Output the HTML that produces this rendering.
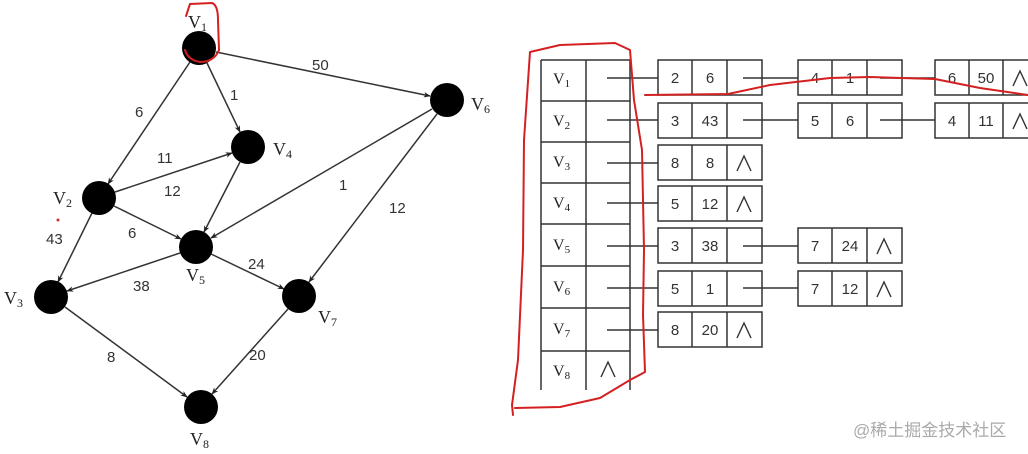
<!DOCTYPE html>
<html><head><meta charset="utf-8"><style>
html,body{margin:0;padding:0;background:#fff;}
svg{display:block;}
.s{font-family:"Liberation Serif",serif;fill:#222;}
.n{font-family:"Liberation Sans",sans-serif;fill:#333;font-size:15px;}
</style></head><body>
<svg width="1028" height="454" viewBox="0 0 1028 454" xmlns="http://www.w3.org/2000/svg">
<defs>
<marker id="a" viewBox="0 0 10 10" refX="9" refY="5" markerWidth="7" markerHeight="7" orient="auto" markerUnits="userSpaceOnUse">
<path d="M0,1 L10,5 L0,9 L3,5 z" fill="#222"/></marker>
</defs>
<g stroke="#333" stroke-width="1.5" marker-end="url(#a)">
<line x1="190" y1="62" x2="108" y2="184"/>
<line x1="207" y1="63" x2="240" y2="132"/>
<line x1="216" y1="52" x2="430" y2="96"/>
<line x1="115" y1="192" x2="232" y2="153"/>
<line x1="114" y1="206" x2="181" y2="239"/>
<line x1="92" y1="213" x2="58" y2="282"/>
<line x1="240" y1="162" x2="204" y2="232"/>
<line x1="432" y1="109" x2="211" y2="238"/>
<line x1="437" y1="114" x2="309" y2="282"/>
<line x1="180" y1="253" x2="67" y2="291"/>
<line x1="211" y1="254" x2="284" y2="289"/>
<line x1="65" y1="307" x2="187" y2="397"/>
<line x1="288" y1="309" x2="212" y2="394"/>
</g>
<g fill="#000">
<circle cx="199" cy="48" r="17"/><circle cx="447" cy="100" r="17"/>
<circle cx="248" cy="147" r="17"/><circle cx="99" cy="198" r="17"/>
<circle cx="196" cy="247" r="17"/><circle cx="51" cy="297" r="17"/>
<circle cx="299" cy="296" r="17"/><circle cx="201" cy="407" r="17"/>
</g>
<g class="n">
<text x="312" y="70">50</text><text x="230" y="100">1</text><text x="135" y="117">6</text>
<text x="157" y="163">11</text><text x="164" y="196">12</text><text x="46" y="244">43</text>
<text x="128" y="238">6</text><text x="339" y="190">1</text><text x="389" y="213">12</text>
<text x="248" y="269">24</text><text x="133" y="291">38</text><text x="107" y="362">8</text>
<text x="249" y="360">20</text>
</g>
<circle cx="58" cy="220" r="1.5" fill="#c33"/>
<g class="s" font-size="18">
<text x="188" y="28">V<tspan font-size="12" dy="3">1</tspan></text>
<text x="471" y="110">V<tspan font-size="12" dy="3">6</tspan></text>
<text x="273" y="155">V<tspan font-size="12" dy="3">4</tspan></text>
<text x="53" y="204">V<tspan font-size="12" dy="3">2</tspan></text>
<text x="186" y="281">V<tspan font-size="12" dy="3">5</tspan></text>
<text x="4" y="304">V<tspan font-size="12" dy="3">3</tspan></text>
<text x="318" y="323">V<tspan font-size="12" dy="3">7</tspan></text>
<text x="190" y="445">V<tspan font-size="12" dy="3">8</tspan></text>
</g>
<!-- table -->
<g stroke="#333" stroke-width="1.5" fill="none">
<line x1="541" y1="60" x2="541" y2="390"/><line x1="586" y1="60" x2="586" y2="390"/><line x1="630" y1="60" x2="630" y2="390"/>
<line x1="541" y1="60" x2="630" y2="60"/><line x1="541" y1="101" x2="630" y2="101"/><line x1="541" y1="142" x2="630" y2="142"/>
<line x1="541" y1="183" x2="630" y2="183"/><line x1="541" y1="224" x2="630" y2="224"/><line x1="541" y1="266" x2="630" y2="266"/>
<line x1="541" y1="308" x2="630" y2="308"/><line x1="541" y1="351" x2="630" y2="351"/>
<line x1="607" y1="78" x2="658" y2="78"/><line x1="607" y1="120" x2="658" y2="120"/><line x1="607" y1="163" x2="658" y2="163"/>
<line x1="607" y1="203" x2="658" y2="203"/><line x1="607" y1="246" x2="658" y2="246"/><line x1="607" y1="288" x2="658" y2="288"/>
<line x1="607" y1="330" x2="658" y2="330"/>
<line x1="743" y1="78" x2="798" y2="78"/><line x1="743" y1="120" x2="798" y2="120"/>
<line x1="743" y1="246" x2="798" y2="246"/><line x1="743" y1="288" x2="798" y2="288"/>
<line x1="880" y1="78" x2="935" y2="78"/><line x1="880" y1="120" x2="935" y2="120"/>
<!-- boxes col1 -->
<g id="b1">
<rect x="658" y="60" width="104" height="35"/><line x1="692" y1="60" x2="692" y2="95"/><line x1="727" y1="60" x2="727" y2="95"/>
<rect x="658" y="103" width="104" height="35"/><line x1="692" y1="103" x2="692" y2="138"/><line x1="727" y1="103" x2="727" y2="138"/>
<rect x="658" y="145" width="104" height="35"/><line x1="692" y1="145" x2="692" y2="180"/><line x1="727" y1="145" x2="727" y2="180"/>
<rect x="658" y="186" width="104" height="35"/><line x1="692" y1="186" x2="692" y2="221"/><line x1="727" y1="186" x2="727" y2="221"/>
<rect x="658" y="228" width="104" height="35"/><line x1="692" y1="228" x2="692" y2="263"/><line x1="727" y1="228" x2="727" y2="263"/>
<rect x="658" y="271" width="104" height="35"/><line x1="692" y1="271" x2="692" y2="306"/><line x1="727" y1="271" x2="727" y2="306"/>
<rect x="658" y="312" width="104" height="35"/><line x1="692" y1="312" x2="692" y2="347"/><line x1="727" y1="312" x2="727" y2="347"/>
</g>
<rect x="798" y="60" width="104" height="35"/><line x1="832" y1="60" x2="832" y2="95"/><line x1="867" y1="60" x2="867" y2="95"/>
<rect x="798" y="103" width="104" height="35"/><line x1="832" y1="103" x2="832" y2="138"/><line x1="867" y1="103" x2="867" y2="138"/>
<rect x="798" y="228" width="104" height="35"/><line x1="832" y1="228" x2="832" y2="263"/><line x1="867" y1="228" x2="867" y2="263"/>
<rect x="798" y="271" width="104" height="35"/><line x1="832" y1="271" x2="832" y2="306"/><line x1="867" y1="271" x2="867" y2="306"/>
<rect x="935" y="60" width="104" height="35"/><line x1="969" y1="60" x2="969" y2="95"/><line x1="1003" y1="60" x2="1003" y2="95"/>
<rect x="935" y="103" width="104" height="35"/><line x1="969" y1="103" x2="969" y2="138"/><line x1="1003" y1="103" x2="1003" y2="138"/>
</g>
<g class="s" font-size="16">
<text x="553" y="84">V<tspan font-size="11" dy="3">1</tspan></text>
<text x="553" y="126">V<tspan font-size="11" dy="3">2</tspan></text>
<text x="553" y="167">V<tspan font-size="11" dy="3">3</tspan></text>
<text x="553" y="208">V<tspan font-size="11" dy="3">4</tspan></text>
<text x="553" y="250">V<tspan font-size="11" dy="3">5</tspan></text>
<text x="553" y="292">V<tspan font-size="11" dy="3">6</tspan></text>
<text x="553" y="334">V<tspan font-size="11" dy="3">7</tspan></text>
<text x="553" y="376">V<tspan font-size="11" dy="3">8</tspan></text>
</g>
<g class="n" font-size="15" text-anchor="middle">
<text x="675" y="83">2</text><text x="710" y="83">6</text>
<text x="815" y="83">4</text><text x="850" y="83">1</text>
<text x="952" y="83">6</text><text x="986" y="83">50</text>
<text x="675" y="126">3</text><text x="710" y="126">43</text>
<text x="815" y="126">5</text><text x="850" y="126">6</text>
<text x="952" y="126">4</text><text x="986" y="126">11</text>
<text x="675" y="168">8</text><text x="710" y="168">8</text>
<text x="675" y="209">5</text><text x="710" y="209">12</text>
<text x="675" y="251">3</text><text x="710" y="251">38</text>
<text x="815" y="251">7</text><text x="850" y="251">24</text>
<text x="675" y="294">5</text><text x="710" y="294">1</text>
<text x="815" y="294">7</text><text x="850" y="294">12</text>
<text x="675" y="335">8</text><text x="710" y="335">20</text>
</g>
<g stroke="#333" stroke-width="1.4" fill="none">
<path d="M737,171 L744,156 L751,171"/><path d="M737,212 L744,197 L751,212"/>
<path d="M737,338 L744,323 L751,338"/><path d="M877,254 L884,239 L891,254"/>
<path d="M877,297 L884,282 L891,297"/><path d="M601,377 L608,362 L615,377"/>
<path d="M1013,86 L1020,71 L1027,86"/><path d="M1013,129 L1020,114 L1027,129"/>
</g>
<!-- red annotations -->
<g stroke="#d42020" stroke-width="2" fill="none" stroke-linecap="round" stroke-linejoin="round">
<path d="M186,16 L190,4 L212,3 Q218,5 218,20 L219,50 Q214,62 200,62 Q188,60 185,50"/>
<path d="M645,95 L728,94 L770,85 L830,78 L870,77 L935,79 L980,88 L1028,95"/>
<path d="M513,415 L512,405 L518,360 L523,250 L524,140 L530,52 L560,45 L615,43 L630,50 L634,100 L642,150 L644,250 L643,315 L645,372 L630,380 L600,398 L560,407 L515,408"/>
</g>
<text x="853" y="436" font-family="Liberation Sans,'Noto Sans CJK SC',sans-serif" font-size="17" fill="#aaa">@稀土掘金技术社区</text>
</svg>
</body></html>
